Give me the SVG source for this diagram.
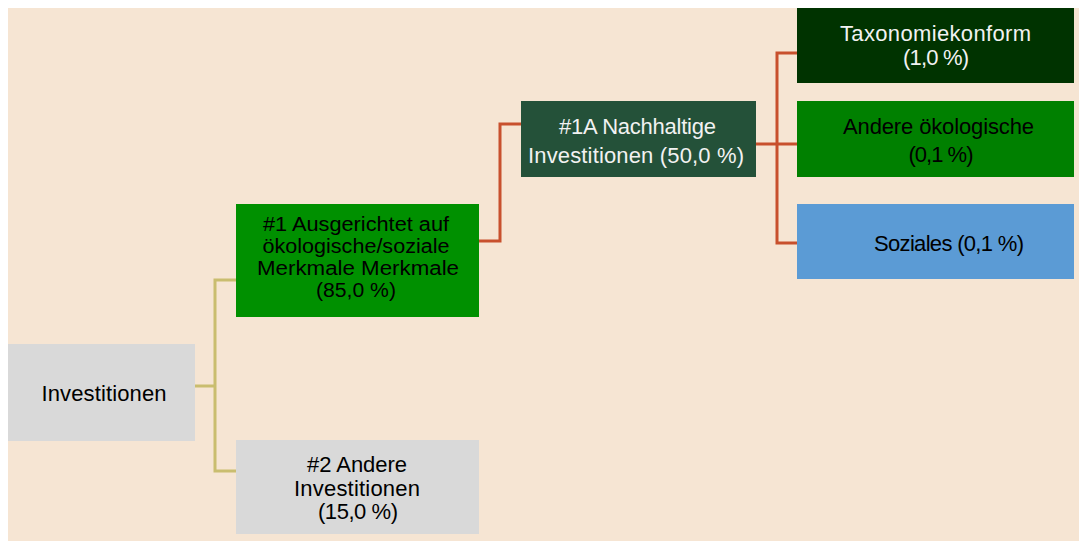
<svg xmlns="http://www.w3.org/2000/svg" width="1079" height="542" viewBox="0 0 1079 542">
<style>
text{font-family:"Liberation Sans",Arial,sans-serif;font-size:22px;text-anchor:middle}
.dk{fill:#000}
.lt{fill:#F2F2F2}
.sm{font-size:19.5px}
.tan{fill:none;stroke:#C9BD6F;stroke-width:3}
.red{fill:none;stroke:#C8502D;stroke-width:3}
</style>
<rect x="0" y="0" width="1079" height="542" fill="#FFFFFF"/>
<rect x="8" y="8" width="1071" height="533" fill="#F6E5D3"/>
<g id="connectors">
<path class="tan" d="M195 386H215M236 280H215V471H236"/>
<path class="red" d="M479 241H500V124H521"/>
<path class="red" d="M756 144H797M797 53H777V243H797"/>
</g>
<g id="investitionen">
<rect x="8" y="344" width="187" height="97" fill="#D9D9D9"/>
<text class="dk" x="104" y="401" textLength="125">Investitionen</text>
</g>
<g id="n1">
<rect x="236" y="204" width="243" height="113" fill="#009000"/>
<text class="dk sm" x="356" y="231" textLength="186" lengthAdjust="spacingAndGlyphs">#1 Ausgerichtet auf</text>
<text class="dk sm" x="356" y="253" textLength="187" lengthAdjust="spacingAndGlyphs">ökologische/soziale</text>
<text class="dk sm" x="358" y="275" textLength="202" lengthAdjust="spacingAndGlyphs">Merkmale Merkmale</text>
<text class="dk sm" x="356" y="297" textLength="80" lengthAdjust="spacingAndGlyphs">(85,0 %)</text>
</g>
<g id="n2">
<rect x="236" y="440" width="243" height="94" fill="#D9D9D9"/>
<text class="dk" x="357" y="472" textLength="100">#2 Andere</text>
<text class="dk" x="357" y="496" textLength="126">Investitionen</text>
<text class="dk" x="358" y="519" textLength="80">(15,0 %)</text>
</g>
<g id="n1a">
<rect x="521" y="101" width="235" height="76" fill="#245139"/>
<text class="lt" x="637.5" y="134" textLength="157">#1A Nachhaltige</text>
<text class="lt" x="636" y="163" textLength="216">Investitionen (50,0 %)</text>
</g>
<g id="taxonomie">
<rect x="797" y="8" width="277" height="75" fill="#003300"/>
<text class="lt" x="935.5" y="41" textLength="191">Taxonomiekonform</text>
<text class="lt" x="936" y="65" textLength="66">(1,0 %)</text>
</g>
<g id="andere">
<rect x="797" y="101" width="277" height="76" fill="#008000"/>
<text class="dk" x="938.5" y="134" textLength="191">Andere ökologische</text>
<text class="dk" x="941" y="162" textLength="65">(0,1 %)</text>
</g>
<g id="soziales">
<rect x="797" y="204" width="277" height="75" fill="#5B9BD5"/>
<text class="dk" x="949" y="251" textLength="150">Soziales (0,1 %)</text>
</g>
</svg>
